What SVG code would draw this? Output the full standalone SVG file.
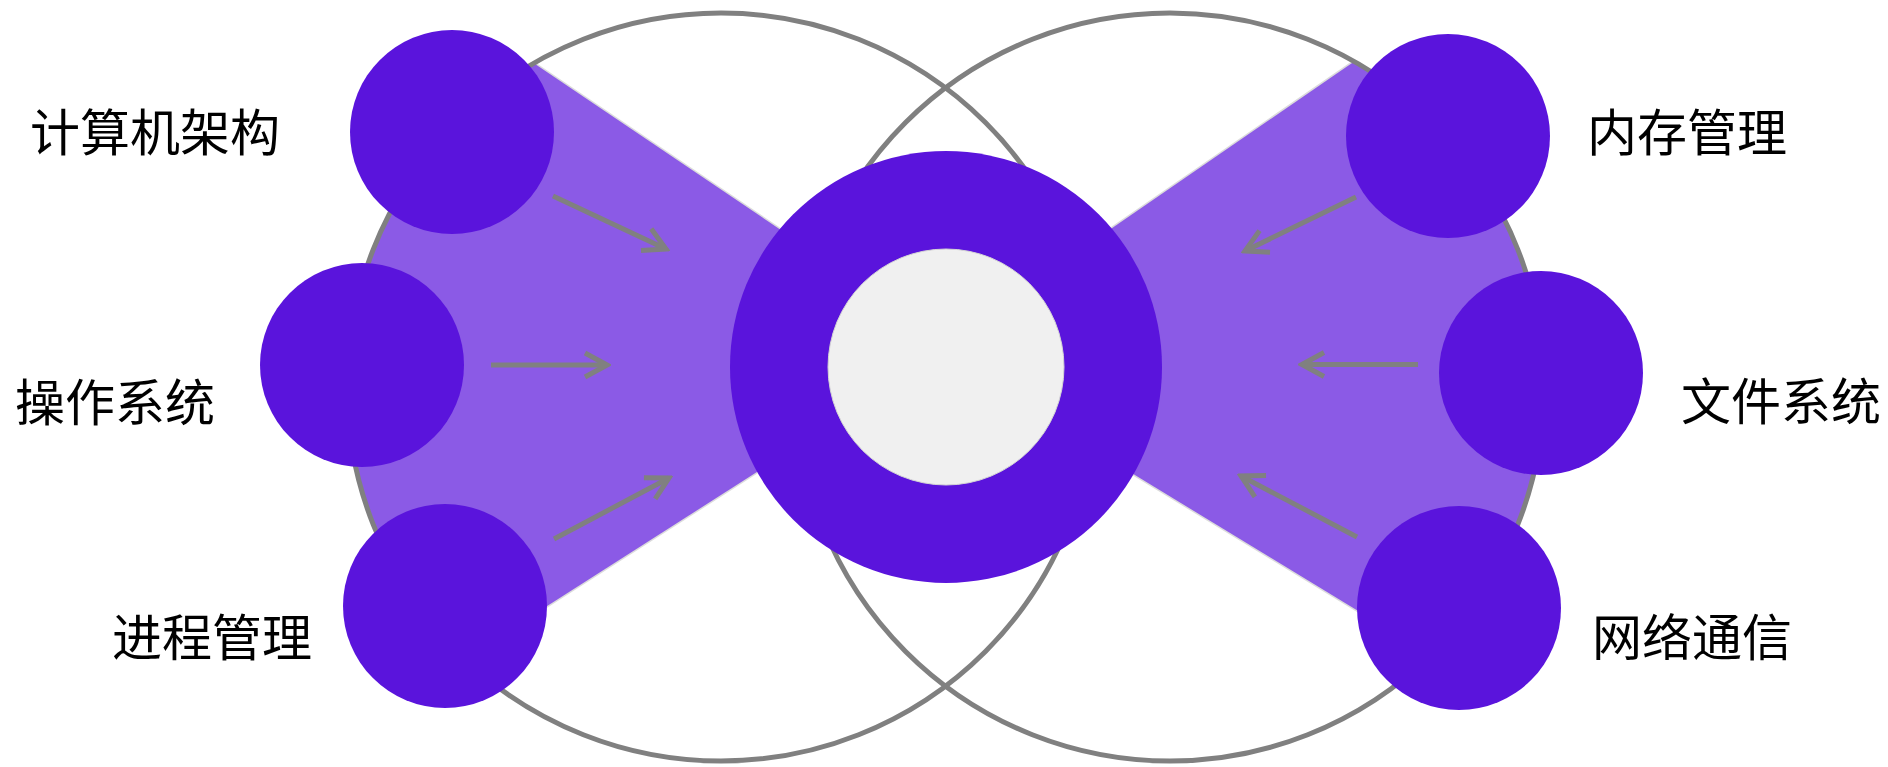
<svg xmlns="http://www.w3.org/2000/svg" width="1888" height="767" viewBox="0 0 1888 767">
  <defs>
    <style>
      .ring { fill: none; stroke: #808080; stroke-width: 5; }
      .fan-edge { fill: none; stroke: #dcdcdc; stroke-width: 3; }
      .fan { fill: #8b5ae6; }
      .node { fill: #5a14dc; }
      .label { font-family: "Noto Sans CJK SC", "Noto Sans", sans-serif; font-size: 50px; fill: #000; }
      .conn { fill: none; stroke: #808080; stroke-width: 5; marker-end: url(#chev); }
    </style>
    <marker id="chev" viewBox="-30 -16 34 32" refX="0" refY="0" markerWidth="34" markerHeight="32" markerUnits="userSpaceOnUse" orient="auto">
      <path d="M -22,-12 L 0,0 L -22,12" fill="none" stroke="#808080" stroke-width="5" stroke-linejoin="miter"/>
    </marker>
    <clipPath id="clipL"><circle cx="721" cy="387" r="374"/></clipPath>
    <clipPath id="clipR"><circle cx="1170" cy="387" r="374"/></clipPath>
  </defs>
  <rect width="1888" height="767" fill="#ffffff"/>

  <g id="background">
    <g clip-path="url(#clipL)">
      <polygon class="fan-edge" points="953.6,346.6 300,-94.6 300,763.6"/>
      <polygon class="fan" points="953.6,346.6 300,-94.6 300,763.6"/>
    </g>
    <g clip-path="url(#clipR)">
      <polygon class="fan-edge" points="932.4,351.7 1600,-107.6 1600,758.3"/>
      <polygon class="fan" points="932.4,351.7 1600,-107.6 1600,758.3"/>
    </g>
    <circle class="ring" cx="721" cy="387" r="374"/>
    <circle class="ring" cx="1170" cy="387" r="374"/>
  </g>

  <g id="center">
    <circle class="node" cx="946" cy="367" r="216"/>
    <circle cx="946" cy="367" r="118" fill="#f0f0f0" stroke="#d4d4d4" stroke-width="1"/>
  </g>

  <g id="connectors">
    <line class="conn" x1="553" y1="196" x2="666" y2="249"/>
    <line class="conn" x1="491" y1="365" x2="607" y2="365"/>
    <line class="conn" x1="554" y1="539" x2="669" y2="478"/>
    <line class="conn" x1="1356" y1="197" x2="1245" y2="251"/>
    <line class="conn" x1="1418" y1="364.5" x2="1302" y2="364.5"/>
    <line class="conn" x1="1357" y1="537" x2="1241" y2="476"/>
  </g>

  <g id="node-arch">
    <circle class="node" cx="452" cy="132" r="102"/>
    <text class="label" x="30" y="151">计算机架构</text>
  </g>
  <g id="node-os">
    <circle class="node" cx="362" cy="365" r="102"/>
    <text class="label" x="15" y="421">操作系统</text>
  </g>
  <g id="node-process">
    <circle class="node" cx="445" cy="606" r="102"/>
    <text class="label" x="112" y="656">进程管理</text>
  </g>
  <g id="node-memory">
    <circle class="node" cx="1448" cy="136" r="102"/>
    <text class="label" x="1587" y="151">内存管理</text>
  </g>
  <g id="node-fs">
    <circle class="node" cx="1541" cy="373" r="102"/>
    <text class="label" x="1681" y="420">文件系统</text>
  </g>
  <g id="node-net">
    <circle class="node" cx="1459" cy="608" r="102"/>
    <text class="label" x="1592" y="656">网络通信</text>
  </g>
</svg>
